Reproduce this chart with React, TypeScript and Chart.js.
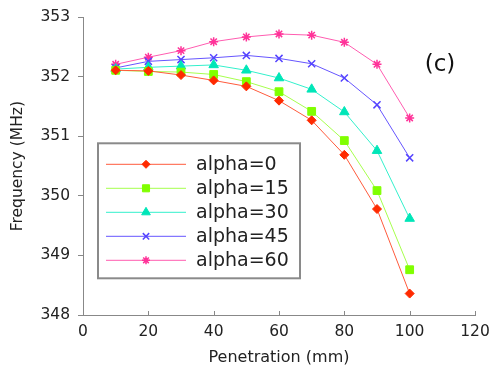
import React, { useEffect, useRef } from "react";
import { Chart, registerables } from "chart.js";
import { drawPoint } from "chart.js/helpers";

Chart.register(...registerables);

const penetration = [10, 20, 30, 40, 50, 60, 70, 80, 90, 100];
const alpha0 = [352.11, 352.1, 352.03, 351.94, 351.84, 351.6, 351.27, 350.69, 349.78, 348.36];
const alpha15 = [352.11, 352.09, 352.08, 352.04, 351.92, 351.75, 351.42, 350.93, 350.09, 348.76];
const alpha30 = [352.13, 352.16, 352.18, 352.2, 352.11, 351.98, 351.79, 351.41, 350.76, 349.62];
const alpha45 = [352.15, 352.26, 352.29, 352.32, 352.36, 352.31, 352.22, 351.98, 351.53, 350.64];
const alpha60 = [352.21, 352.33, 352.44, 352.59, 352.67, 352.72, 352.7, 352.58, 352.21, 351.31];
const seriesLabels = ["alpha=0", "alpha=15", "alpha=30", "alpha=45", "alpha=60"];
const panelLabel = "(c)";

const FONT = "'DejaVu Sans', sans-serif";

const styles = [
  { line: "#ff5a3c", point: "#ff2a00", shape: "rectRot", r: 4.5 },
  { line: "#a6ff4d", point: "#80ff00", shape: "rect", r: 5.5 },
  { line: "#33f0cc", point: "#00e6b8", shape: "triangle", r: 5.5 },
  { line: "#6655ff", point: "#5544ff", shape: "crossRot", r: 5 },
  { line: "#ff5cb0", point: "#ff3399", shape: "star", r: 4.5 },
];

const overlay = {
  id: "overlay",
  afterDraw(chart: any) {
    const ctx = chart.ctx;
    const ca = chart.chartArea;
    const xs = chart.scales.x;
    ctx.save();
    ctx.strokeStyle = "#888";
    ctx.lineWidth = 1;
    xs.ticks.forEach((t: any) => {
      const px = Math.round(xs.getPixelForValue(t.value)) + 0.5;
      ctx.beginPath();
      ctx.moveTo(px, ca.bottom);
      ctx.lineTo(px, ca.bottom - 4);
      ctx.stroke();
    });
    ctx.fillStyle = "#111";
    ctx.font = `23px ${FONT}`;
    ctx.textAlign = "center";
    ctx.textBaseline = "middle";
    ctx.fillText(panelLabel, ca.left + 357, ca.top + 48);
    const bx = ca.left + 15, by = ca.top + 126, bw = 202, bh = 135;
    ctx.fillStyle = "#fff";
    ctx.fillRect(bx, by, bw, bh);
    ctx.strokeStyle = "#8a8a8a";
    ctx.lineWidth = 2;
    ctx.strokeRect(bx, by, bw, bh);
    chart.data.datasets.forEach((ds: any, i: number) => {
      const y = by + 21 + i * 24;
      ctx.strokeStyle = ds.borderColor;
      ctx.lineWidth = 1;
      ctx.beginPath();
      ctx.moveTo(bx + 8, y);
      ctx.lineTo(bx + 88, y);
      ctx.stroke();
      ctx.fillStyle = ds.pointBackgroundColor;
      ctx.strokeStyle = ds.pointBorderColor;
      ctx.lineWidth = ds.pointBorderWidth;
      drawPoint(ctx, { pointStyle: ds.pointStyle, radius: ds.pointRadius - 0.5, rotation: 0, borderWidth: ds.pointBorderWidth }, bx + 48, y);
      ctx.fillStyle = "#222";
      ctx.font = `19px ${FONT}`;
      ctx.textAlign = "left";
      ctx.textBaseline = "middle";
      ctx.fillText(ds.label, bx + 98, y + 1);
    });
    ctx.restore();
  },
};

export default function App() {
  const ref = useRef<HTMLCanvasElement>(null);
  useEffect(() => {
    const series = [alpha0, alpha15, alpha30, alpha45, alpha60];
    const chart = new Chart(ref.current!, {
      type: "line",
      data: {
        datasets: series.map((vals, i) => ({
          label: seriesLabels[i],
          data: vals.map((v, j) => ({ x: penetration[j], y: v })),
          borderColor: styles[i].line,
          borderWidth: 1,
          pointStyle: styles[i].shape as any,
          pointRadius: styles[i].r,
          pointBackgroundColor: styles[i].point,
          pointBorderColor: styles[i].point,
          pointBorderWidth: styles[i].shape === "crossRot" || styles[i].shape === "star" ? 1.5 : 1,
          tension: 0,
          fill: false,
        })),
      },
      options: {
        animation: false,
        responsive: false,
        maintainAspectRatio: false,
        layout: { padding: { left: 0, top: 16, right: 19, bottom: 0 } },
        plugins: { legend: { display: false }, tooltip: { enabled: false } },
        scales: {
          x: {
            type: "linear",
            min: 0,
            max: 120,
            ticks: { stepSize: 20, color: "#222", font: { family: FONT, size: 15.5 }, padding: 4 },
            grid: { display: true, drawOnChartArea: false, drawTicks: true, tickLength: 4, color: "rgba(0,0,0,0)" },
            border: { display: true, color: "#888", width: 1 },
            title: { display: true, text: "Penetration (mm)", color: "#222", font: { family: FONT, size: 16 }, padding: { top: 0, bottom: 1 } },
            afterFit: (s: any) => { s.height = 53; },
          },
          y: {
            type: "linear",
            min: 348,
            max: 353,
            ticks: { stepSize: 1, color: "#222", font: { family: FONT, size: 15.5 }, padding: 8 },
            grid: { display: true, drawOnChartArea: false, drawTicks: true, tickLength: 5, color: "#888" },
            border: { display: true, color: "#888", width: 1 },
            title: { display: true, text: "Frequency (MHz)", color: "#222", font: { family: FONT, size: 15.5 }, padding: { top: 9, bottom: 0 } },
            afterFit: (s: any) => { s.width = 83; },
          },
        },
      },
      plugins: [overlay],
    });
    return () => chart.destroy();
  }, []);
  return (
    <div style={{ position: "fixed", left: 0, top: 0, width: 494, height: 368, background: "#fff" }}>
      <canvas ref={ref} width={494} height={368} style={{ display: "block" }} />
    </div>
  );
}
